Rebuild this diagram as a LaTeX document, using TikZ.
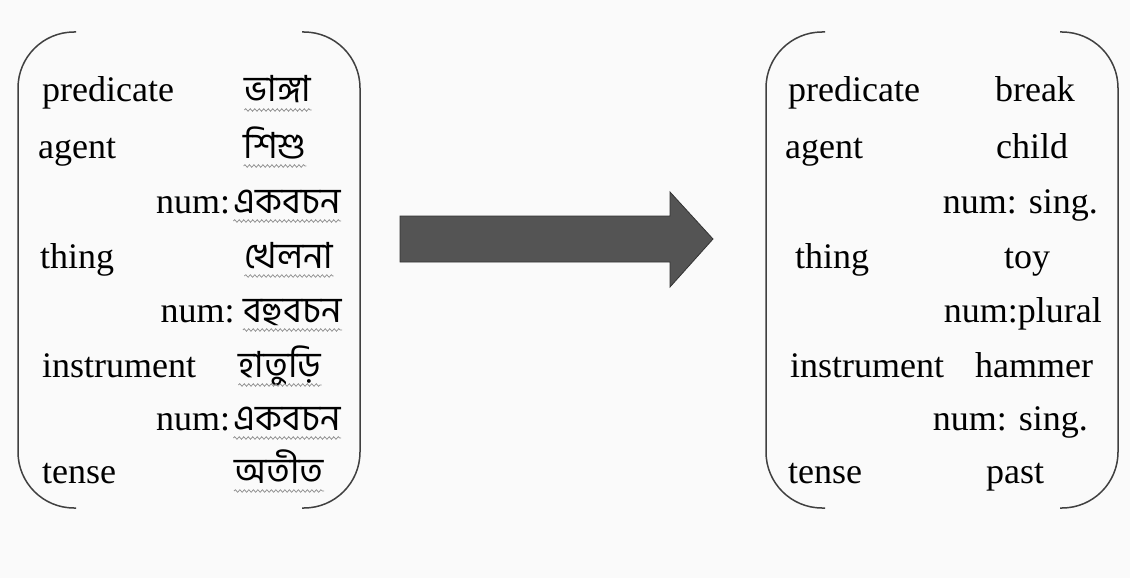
\documentclass[tikz,border=0pt]{standalone}
\usepackage{fontspec}
\setmainfont{Liberation Serif}
\newfontfamily\bn[Script=Bengali]{Hind Siliguri}
\usetikzlibrary{decorations.pathmorphing}
\begin{document}
\begin{tikzpicture}[x=1pt,y=-1pt]
      \tikzset{lbl/.style={anchor=base west, inner sep=0pt, font=\fontsize{36}{40}\selectfont},
               val/.style={anchor=base, inner sep=0pt, font=\fontsize{36}{40}\selectfont},
               bval/.style={anchor=base, inner sep=0pt, font=\bn\fontsize{36}{40}\selectfont},
               numb/.style={anchor=base east, inner sep=0pt, font=\bn\fontsize{36}{40}\selectfont},
               brk/.style={draw=black!75, line width=1.5pt, rounded corners=56pt},
               wavy/.style={draw=black!45, line width=0.7pt, decorate, decoration={snake, amplitude=1.3pt, segment length=4.5pt}}}
      \fill[black!2] (0,0) rectangle (1130,578);
%% Brackets
	%bangla
		\draw[brk] (76,32) -- (18,32) -- (18,508) -- (76,508);
		\draw[brk] (302,32) -- (360,32) -- (360,508) -- (302,508);
	%english
		\draw[brk] (825,32) -- (766,32) -- (766,508) -- (825,508);
		\draw[brk] (1060,32) -- (1118,32) -- (1118,508) -- (1060,508);
%% Arrow
		\draw[fill=black!67, draw=black!80, line width=0.8pt] (400,216) -- (670,216) -- (670,192) -- (713,239) -- (670,287) -- (670,262) -- (400,262) -- cycle;
%% Rows
	%bangla
		\node[lbl] (p) at (42,102) {predicate};
		\node[lbl] (a) at (38,158) {agent};
		\node[lbl] (t) at (40,268) {thing};
		\node[lbl] (i) at (42,377) {instrument};
		\node[lbl] (s) at (42,483) {tense};
		\node[bval] (pv) at (278,102) {ভাঙ্গা};
		\node[bval] (av) at (275,158) {শিশু};
		\node[numb] (an) at (341,213) {একবচন};
		\node[lbl, anchor=base east] (anl) at ([xshift=-3pt]an.base west) {num:};
		\node[bval] (tv) at (289,268) {খেলনা};
		\node[numb] (tn) at (342,322) {বহুবচন};
		\node[lbl, anchor=base east] (tnl) at ([xshift=-8pt]tn.base west) {num:};
		\node[bval] (iv) at (280,377) {হাতুড়ি};
		\node[numb] (in) at (341,430) {একবচন};
		\node[lbl, anchor=base east] (inl) at ([xshift=-3pt]in.base west) {num:};
		\node[bval] (sv) at (279,483) {অতীত};
	%english
		\node[lbl] (p1) at (788,102) {predicate};
		\node[lbl] (a1) at (785,158) {agent};
		\node[lbl] (t1) at (795,268) {thing};
		\node[lbl] (i1) at (790,377) {instrument};
		\node[lbl] (s1) at (788,483) {tense};
		\node[val] (pv1) at (1035,102) {break};
		\node[val] (av1) at (1032,158) {child};
		\node[val, anchor=base east] (an1) at (1098,213) {num: sing.};
		\node[val] (tv1) at (1027,268) {toy};
		\node[val, anchor=base east] (tn1) at (1102,322) {num:plural};
		\node[val] (iv1) at (1034,377) {hammer};
		\node[val, anchor=base east] (in1) at (1088,430) {num: sing.};
		\node[val] (sv1) at (1015,483) {past};
%% Spelling marks
		\foreach \w in {pv,av,an,tv,tn,iv,in,sv}
			\path[wavy] ([yshift=-8pt]\w.base west) -- ([yshift=-8pt]\w.base east);
\end{tikzpicture}
\end{document}
